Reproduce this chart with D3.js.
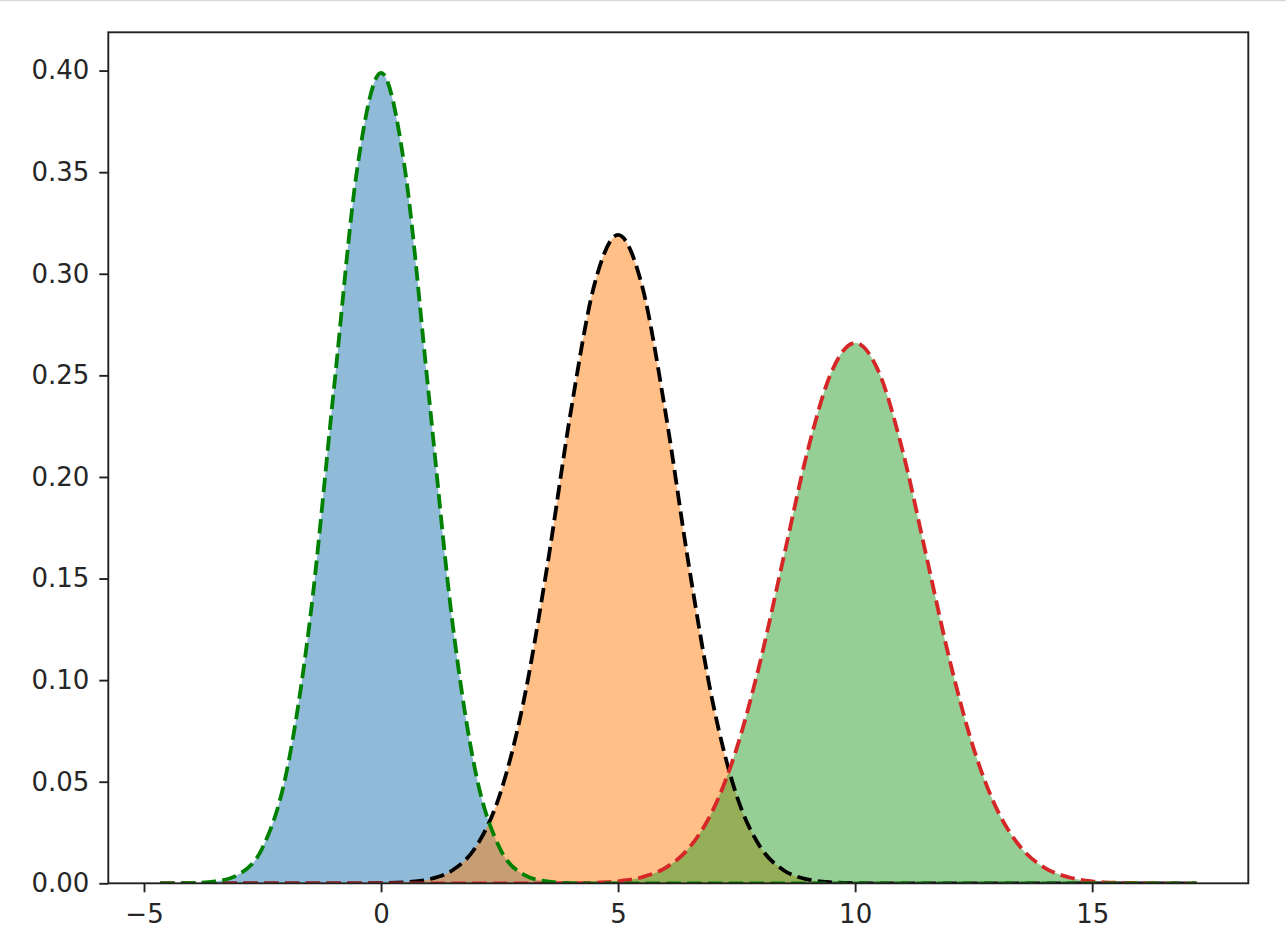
<!DOCTYPE html>
<html>
<head>
<meta charset="utf-8">
<script src="https://cdn.jsdelivr.net/npm/d3@7"></script>
<style>
  body { margin: 0; background: #fff; }
  #chart { width: 1286px; height: 948px; }
  .tick text { font-family: "DejaVu Sans", sans-serif; font-size: 26px; fill: #262626; }
</style>
</head>
<body>
<div id="chart"></div>
<script>
// sample positions shared by the three curves
const xValues = [-4.66, -4.5, -4, -3.5, -3, -2.5, -2, -1.5, -1, -0.5, 0, 0.5, 1, 1.5, 2, 2.5, 3, 3.5, 4, 4.5,
  5, 5.5, 6, 6.5, 7, 7.5, 8, 8.5, 9, 9.5, 10, 10.5, 11, 11.5, 12, 12.5, 13, 13.5, 14, 14.5, 15, 15.5, 16, 16.5, 17, 17.2];

// densities (peaks at 0, 5 and 10)
const blueValues = [0, 0, 0.0001, 0.0009, 0.0044, 0.0175, 0.0540, 0.1295, 0.2420, 0.3521, 0.3989, 0.3521, 0.2420, 0.1295, 0.0540, 0.0175, 0.0044, 0.0009, 0.0001, 0,
  0, 0, 0, 0, 0, 0, 0, 0, 0, 0, 0, 0, 0, 0, 0, 0, 0, 0, 0, 0, 0, 0, 0, 0, 0, 0];
const orangeValues = [0, 0, 0, 0, 0, 0, 0, 0, 0, 0, 0.0001, 0.0005, 0.0019, 0.0063, 0.0179, 0.0432, 0.0887, 0.1553, 0.2318, 0.2946,
  0.3191, 0.2946, 0.2318, 0.1553, 0.0887, 0.0432, 0.0179, 0.0063, 0.0019, 0.0005, 0.0001, 0, 0, 0, 0, 0, 0, 0, 0, 0, 0, 0, 0, 0, 0, 0];
const greenValues = [0, 0, 0, 0, 0, 0, 0, 0, 0, 0, 0, 0, 0, 0, 0, 0, 0, 0, 0.0001, 0.0003,
  0.0010, 0.0030, 0.0076, 0.0175, 0.0360, 0.0663, 0.1093, 0.1613, 0.2130, 0.2516, 0.2660, 0.2516, 0.2130, 0.1613, 0.1093, 0.0663, 0.0360, 0.0175, 0.0076, 0.0030,
  0.0010, 0.0003, 0.0001, 0, 0, 0];

const xTicks = [-5, 0, 5, 10, 15];
const yTicks = [0, 0.05, 0.10, 0.15, 0.20, 0.25, 0.30, 0.35, 0.40];

const series = [
  { name: "blue", values: blueValues, fill: "#1f77b4", line: "#008000" },
  { name: "orange", values: orangeValues, fill: "#ff7f0e", line: "#000000" },
  { name: "green", values: greenValues, fill: "#2ca02c", line: "#d62728" }
];

const width = 1286, height = 948;
const margin = { top: 32.3, right: 37.7, bottom: 64.7, left: 108.3 };

const svg = d3.select("#chart")
  .append("svg")
  .attr("width", width)
  .attr("height", height);

// thin grey rule along the top edge of the picture
svg.append("line")
  .attr("x1", 0).attr("x2", width)
  .attr("y1", 0.5).attr("y2", 0.5)
  .attr("stroke", "#d9d9d9")
  .attr("stroke-width", 1.5);

// matplotlib style 5% margins on x, sticky zero on y
const xExt = d3.extent(xValues);
const xPad = (xExt[1] - xExt[0]) * 0.05;
const yMax = d3.max(series, s => d3.max(s.values));

const xScale = d3.scaleLinear()
  .domain([xExt[0] - xPad, xExt[1] + xPad])
  .range([margin.left, width - margin.right]);
const yScale = d3.scaleLinear()
  .domain([0, yMax * 1.05])
  .range([height - margin.bottom, margin.top]);

svg.append("clipPath").attr("id", "plot-clip")
  .append("rect")
  .attr("x", margin.left).attr("y", margin.top)
  .attr("width", width - margin.left - margin.right)
  .attr("height", height - margin.top - margin.bottom);

const plot = svg.append("g").attr("clip-path", "url(#plot-clip)");

const area = d3.area()
  .x((d, i) => xScale(xValues[i]))
  .y0(yScale(0))
  .y1(d => yScale(d))
  .curve(d3.curveMonotoneX);

const line = d3.line()
  .x((d, i) => xScale(xValues[i]))
  .y(d => yScale(d))
  .curve(d3.curveMonotoneX);

plot.selectAll("path.fill")
  .data(series)
  .enter()
  .append("path")
  .attr("class", "fill")
  .attr("d", d => area(d.values))
  .attr("fill", d => d.fill)
  .attr("fill-opacity", 0.5);

// draw order: black, red, then green on top
const lineOrder = [series[1], series[2], series[0]];
plot.selectAll("path.curve")
  .data(lineOrder)
  .enter()
  .append("path")
  .attr("class", "curve")
  .attr("d", d => line(d.values))
  .attr("fill", "none")
  .attr("stroke", d => d.line)
  .attr("stroke-width", 3.8)
  .attr("stroke-dasharray", "14.5,6.3");

// axes
const xAxis = svg.append("g")
  .attr("transform", `translate(0,${height - margin.bottom})`)
  .call(d3.axisBottom(xScale).tickValues(xTicks).tickSize(9).tickPadding(12).tickFormat(d3.format("d")));
const yAxis = svg.append("g")
  .attr("transform", `translate(${margin.left},0)`)
  .call(d3.axisLeft(yScale).tickValues(yTicks).tickSize(9).tickPadding(10).tickFormat(d3.format(".2f")));

[xAxis, yAxis].forEach(ax => {
  ax.attr("font-family", "DejaVu Sans").attr("font-size", 26);
  ax.select(".domain").remove();
  ax.selectAll(".tick line").attr("stroke", "#222").attr("stroke-width", 1.9);
});

// spines
svg.append("rect")
  .attr("x", margin.left).attr("y", margin.top)
  .attr("width", width - margin.left - margin.right)
  .attr("height", height - margin.top - margin.bottom)
  .attr("fill", "none")
  .attr("stroke", "#222")
  .attr("stroke-width", 1.9);
</script>
</body>
</html>
